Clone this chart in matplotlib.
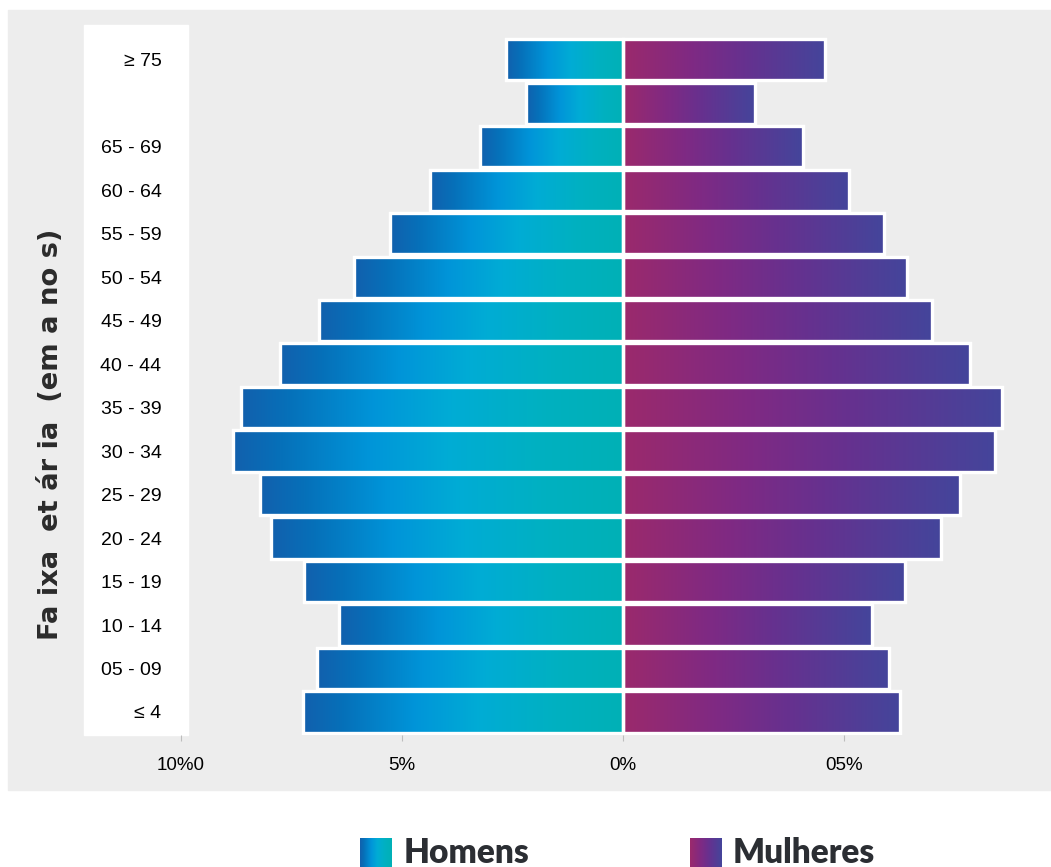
import numpy as np
import matplotlib
matplotlib.use("Agg")
import matplotlib.pyplot as plt
from matplotlib.colors import LinearSegmentedColormap
from matplotlib.patches import Rectangle

# faixas etarias, de baixo para cima
faixas = ["≤ 4", "05 - 09", "10 - 14", "15 - 19", "20 - 24", "25 - 29", "30 - 34",
          "35 - 39", "40 - 44", "45 - 49", "50 - 54", "55 - 59", "60 - 64",
          "65 - 69", "", "≥ 75"]
homens = [7.24, 6.92, 6.43, 7.22, 7.96, 8.21, 8.82, 8.64, 7.76, 6.88, 6.09, 5.27,
          4.37, 3.24, 2.20, 2.65]
mulheres = [6.27, 6.02, 5.63, 6.38, 7.19, 7.62, 8.42, 8.57, 7.85, 6.99, 6.43, 5.90,
            5.11, 4.07, 2.99, 4.57]
xticks = [-10, -5, 0, 5]
xticklabels = ["10%0", "5%", "0%", "05%"]

cmap_h = LinearSegmentedColormap.from_list(
    "homens", [(0, "#1260ad"), (0.12, "#0670b9"), (0.35, "#0095d9"),
               (0.55, "#00acd5"), (0.8, "#00b1c0"), (1, "#00b0b6")])
cmap_m = LinearSegmentedColormap.from_list(
    "mulheres", [(0, "#9b296c"), (0.35, "#7e2a84"), (0.6, "#66318f"),
                 (1, "#44459b")])

W, H = 1051, 867
fig = plt.figure(figsize=(W / 100, H / 100), dpi=100, facecolor="white")

# fundo cinza e painel branco dos rotulos
fig.patches.append(Rectangle((8 / W, (H - 790) / H), (W - 8) / W, 780 / H,
                             transform=fig.transFigure, color="#ededed", zorder=-10))
fig.patches.append(Rectangle((84 / W, (H - 735) / H), 104 / W, 710 / H,
                             transform=fig.transFigure, color="white", zorder=-9))

ax = fig.add_axes([181 / W, (H - 735) / H, 862 / W, 710 / H])
ax.set_facecolor("none")

y = np.arange(len(faixas))
grad = np.linspace(0, 1, 256).reshape(1, -1)
bh = 0.95

bars_h = ax.barh(y, [-v for v in homens], height=bh, color="none",
                 edgecolor="white", linewidth=2.4, zorder=3)
bars_m = ax.barh(y, mulheres, height=bh, color="none",
                 edgecolor="white", linewidth=2.4, zorder=3)

for b in bars_h:
    x0, yb, w, hh = b.get_x(), b.get_y(), b.get_width(), b.get_height()
    im = ax.imshow(grad, cmap=cmap_h, aspect="auto", interpolation="bicubic",
                   extent=(x0 + w, x0, yb, yb + hh), zorder=2)
    im.set_clip_path(b)
for b in bars_m:
    x0, yb, w, hh = b.get_x(), b.get_y(), b.get_width(), b.get_height()
    im = ax.imshow(grad, cmap=cmap_m, aspect="auto", interpolation="bicubic",
                   extent=(x0, x0 + w, yb, yb + hh), zorder=2)
    im.set_clip_path(b)

ax.set_xlim(-10, 9.5)
ax.set_ylim(-0.53, 15.8)
ax.set_yticks(y)
ax.set_yticklabels(faixas, fontsize=14, family="Liberation Sans")
ax.set_xticks(xticks)
ax.set_xticklabels(xticklabels, fontsize=13.5, family="Liberation Sans")
ax.tick_params(axis="y", length=0, pad=14)
ax.tick_params(axis="x", length=4, width=0.8, color="#bdbdbd", pad=12)
for s in ax.spines.values():
    s.set_visible(False)

fig.text(51 / W, 1 - 434 / H, "Fa ixa  et ár ia  (em a no s)", rotation=90,
         ha="center", va="center", fontsize=19.7, fontweight="bold",
         family="DejaVu Sans", color="#2b2b2b")

# legenda
for px, cm, label, tx in [(360, cmap_h, "Homens", 404), (690, cmap_m, "Mulheres", 733)]:
    lax = fig.add_axes([px / W, (H - 870) / H, 32 / W, 32 / H])
    lax.imshow(grad, cmap=cm, aspect="auto", interpolation="bicubic")
    lax.axis("off")
    fig.text(tx / W, (H - 863) / H, label, fontsize=24, fontweight="heavy",
             family="Lato", color="#2b2e33", va="baseline", ha="left")

fig.savefig("out.png", dpi=100)
